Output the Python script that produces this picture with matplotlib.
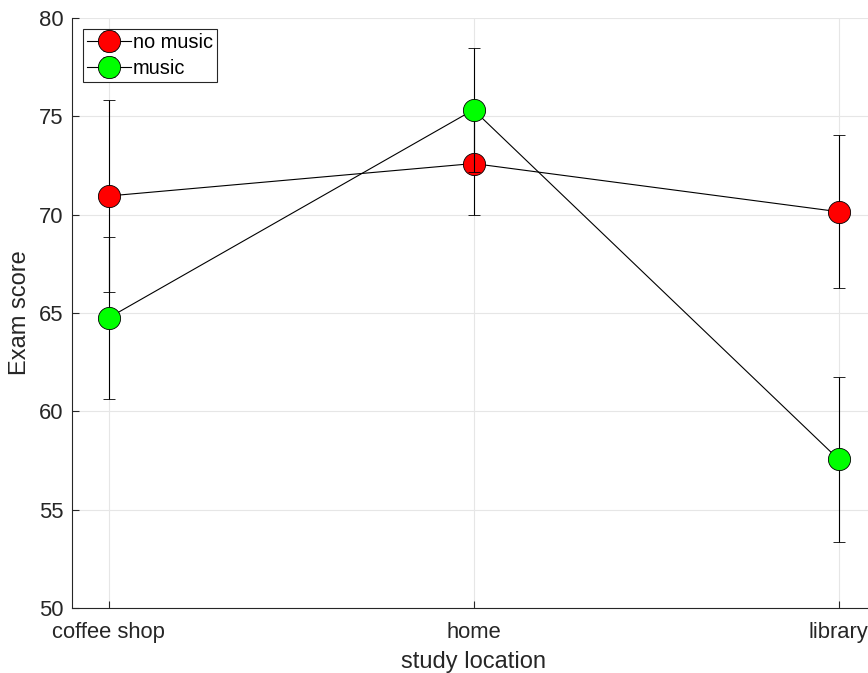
import numpy as np
import matplotlib.pyplot as plt

plt.rcParams['font.family'] = ['Liberation Sans', 'DejaVu Sans']

locations = ['coffee shop', 'home', 'library']
no_music = [70.95, 72.6, 70.15]
no_music_err = [4.88, 2.64, 3.88]
music = [64.75, 75.33, 57.56]
music_err = [4.1, 3.14, 4.2]

x = np.arange(1, len(locations) + 1)
ink = '#262626'

fig = plt.figure(figsize=(8.68, 6.73), dpi=100)
ax = fig.add_axes([72 / 868, 65 / 673, 803 / 868, 590 / 673])

ax.errorbar(x, no_music, yerr=no_music_err, color='k', lw=0.8, elinewidth=0.8,
            capsize=4, capthick=0.8, marker='o', ms=16, mfc='#ff0000', mec='k',
            mew=0.6, label='no music', zorder=3)
ax.errorbar(x, music, yerr=music_err, color='k', lw=0.8, elinewidth=0.8,
            capsize=4, capthick=0.8, marker='o', ms=16, mfc='#00ff00', mec='k',
            mew=0.6, label='music', zorder=4)

ax.set_xlim(0.9, 3.1)
ax.set_ylim(50, 80)
ax.set_xticks(x)
ax.set_xticklabels(locations)
ax.set_yticks(np.arange(50, 81, 5))
ax.grid(True, color='#e6e6e6', lw=0.8)
ax.set_axisbelow(True)
for s in ['top', 'right']:
    ax.spines[s].set_visible(False)
for s in ['left', 'bottom']:
    ax.spines[s].set_color(ink)
    ax.spines[s].set_linewidth(0.8)
ax.tick_params(direction='in', length=5, width=0.8, colors=ink, labelsize=15.8)
ax.tick_params(axis='x', pad=10)
ax.tick_params(axis='y', pad=6)
ax.set_xlabel('study location', fontsize=17, color=ink, labelpad=6)
ax.set_ylabel('Exam score', fontsize=17, color=ink, labelpad=6)

leg = ax.legend(loc='upper left', fontsize=14.4, frameon=True, fancybox=False,
                edgecolor=ink, framealpha=1, borderpad=0.2, handlelength=2.2,
                handletextpad=0.1, labelspacing=0.35, borderaxespad=0.55)
leg.get_frame().set_linewidth(0.8)
for t in leg.get_texts():
    t.set_color('k')

fig.savefig('out.png', dpi=100)
